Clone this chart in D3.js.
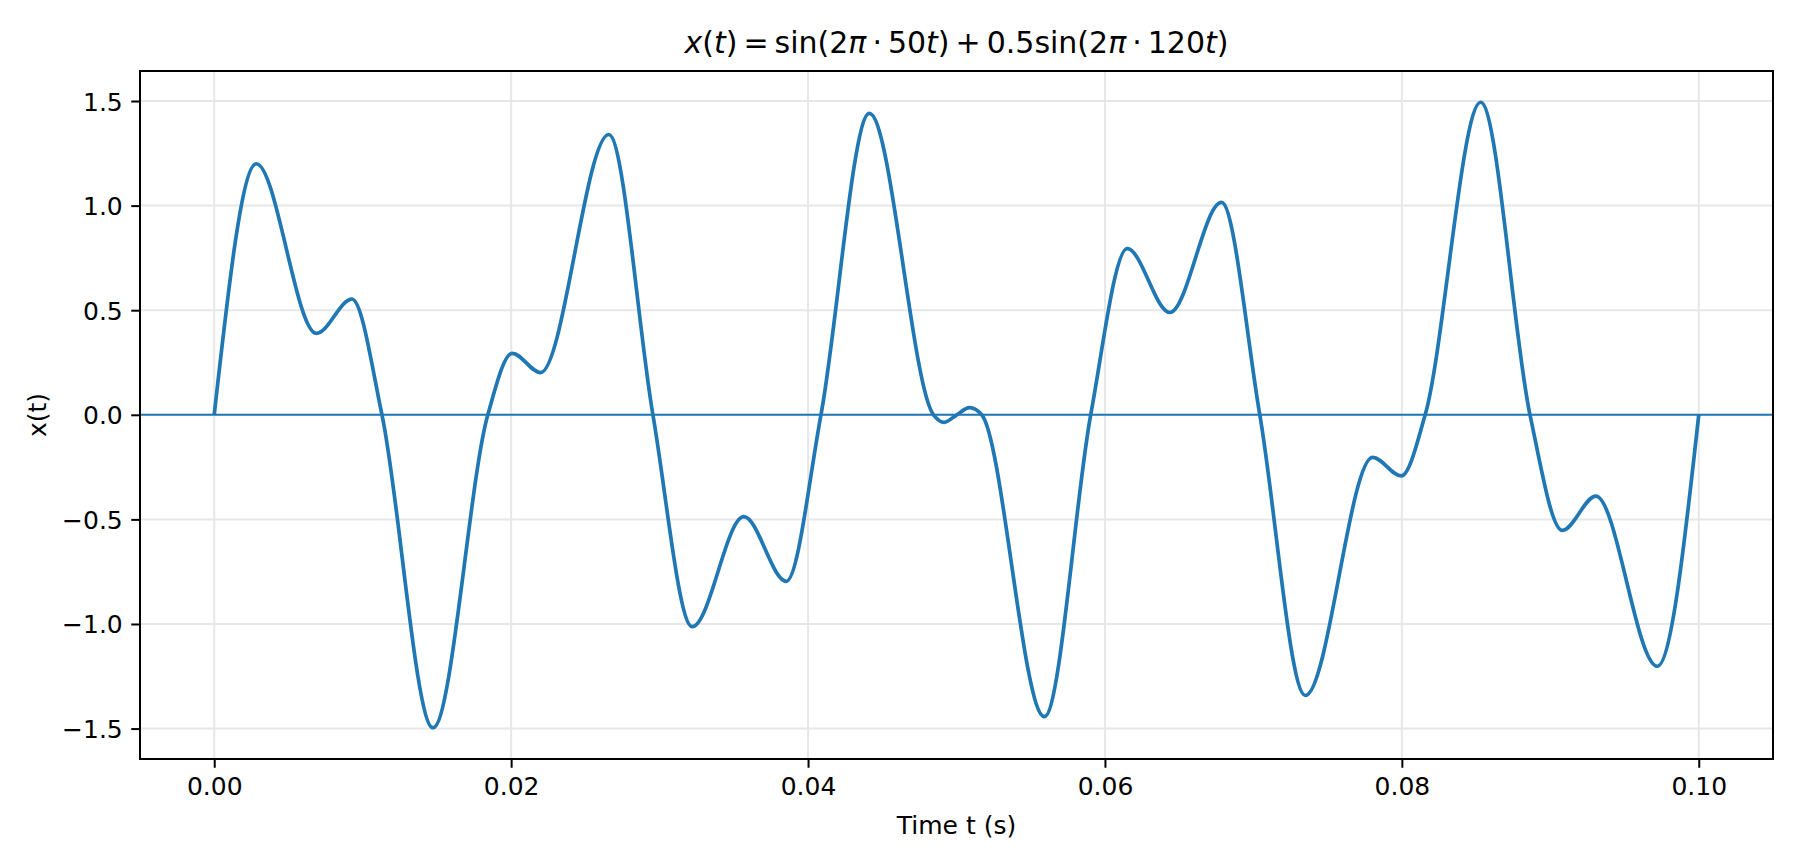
<!DOCTYPE html>
<html>
<head>
<meta charset="utf-8">
<script src="https://cdn.jsdelivr.net/npm/d3@7"></script>
<style>
  body { margin: 0; background: #fff; }
  svg { display: block; font-family: "DejaVu Sans", sans-serif; }
</style>
</head>
<body>
<svg id="chart" width="1800" height="864"></svg>
<script>
// points: local extrema and zero crossings
let timePoints = [
  0, 0.00283, 0.00688, 0.00928, 0.0113, 0.01474, 0.01843, 0.02007, 0.02198, 0.02658,
  0.02955, 0.0322, 0.03567, 0.03854, 0.04087, 0.04413, 0.04845, 0.04917, 0.05002, 0.05087,
  0.0517, 0.05592, 0.05904, 0.0615, 0.06437, 0.06785, 0.07043, 0.0735, 0.07803, 0.07996,
  0.08157, 0.08531, 0.08863, 0.09081, 0.09307, 0.0972, 0.1
];
let signalValues = [
  0, 1.20, 0.389, 0.553, 0, -1.496, 0, 0.294, 0.202, 1.340,
  0, -1.013, -0.487, -0.796, 0, 1.441, 0, -0.036, 0, 0.034,
  0, -1.443, 0, 0.794, 0.489, 1.015, 0, -1.342, -0.204, -0.292,
  0, 1.494, 0, -0.553, -0.389, -1.202, 0
];
let xTicks = [0, 0.02, 0.04, 0.06, 0.08, 0.10];
let yTicks = [-1.5, -1.0, -0.5, 0.0, 0.5, 1.0, 1.5];

let margin = {top: 71, right: 27, bottom: 105, left: 140};
let width = 1800, height = 864;
let plot_w = width - margin.left - margin.right;
let plot_h = height - margin.top - margin.bottom;
let blue = "#1f77b4";

let data = timePoints.map((t, i) => ({t: t, v: signalValues[i]}));

let svg = d3.select("#chart");
let graph = svg.append("g").attr("transform", `translate(${margin.left}, ${margin.top})`);

// matplotlib style 5% margins
let tExt = d3.extent(data, d => d.t);
let vExt = d3.extent(data, d => d.v);
let tPad = (tExt[1] - tExt[0]) * 0.05;
let vPad = (vExt[1] - vExt[0]) * 0.05;

let x = d3.scaleLinear()
    .domain([tExt[0] - tPad, tExt[1] + tPad])
    .range([0, plot_w]);
let y = d3.scaleLinear()
    .domain([vExt[0] - vPad, vExt[1] + vPad])
    .range([plot_h, 0]);

// grid
graph.append("g")
    .selectAll("line.gx")
    .data(xTicks)
    .enter().append("line")
    .attr("x1", d => x(d)).attr("x2", d => x(d))
    .attr("y1", 0).attr("y2", plot_h)
    .attr("stroke", "#e7e7e7").attr("stroke-width", 2);
graph.append("g")
    .selectAll("line.gy")
    .data(yTicks)
    .enter().append("line")
    .attr("x1", 0).attr("x2", plot_w)
    .attr("y1", d => y(d)).attr("y2", d => y(d))
    .attr("stroke", "#e7e7e7").attr("stroke-width", 2);

let line = d3.line()
    .x(d => x(d.t))
    .y(d => y(d.v))
    .curve(d3.curveMonotoneX);

graph.append("path")
    .datum(data)
    .attr("d", line)
    .attr("fill", "none")
    .attr("stroke", blue)
    .attr("stroke-width", 3.7)
    .attr("stroke-linejoin", "round");

// horizontal line at zero across the axes
graph.append("line")
    .attr("x1", 0).attr("x2", plot_w)
    .attr("y1", y(0)).attr("y2", y(0))
    .attr("stroke", blue).attr("stroke-width", 2);

// axes
let minus = s => s.replace("-", "\u2212");
let xAxis = graph.append("g")
    .attr("transform", `translate(0, ${plot_h})`)
    .call(d3.axisBottom(x).tickValues(xTicks).tickFormat(d3.format(".2f"))
        .tickSize(8.75).tickPadding(8.5).tickSizeOuter(0));
let yAxis = graph.append("g")
    .call(d3.axisLeft(y).tickValues(yTicks).tickFormat(d => minus(d3.format(".1f")(d)))
        .tickSize(8.75).tickPadding(8.5).tickSizeOuter(0));

[xAxis, yAxis].forEach(a => {
    a.select(".domain").remove();
    a.selectAll(".tick line").attr("stroke", "#000").attr("stroke-width", 2);
    a.selectAll(".tick text")
        .attr("fill", "#000")
        .style("font-size", "25px")
        .style("font-family", "DejaVu Sans");
});
yAxis.selectAll(".tick text").attr("dy", "0.36em");
xAxis.selectAll(".tick text").attr("dy", "0.76em");

// frame
graph.append("rect")
    .attr("x", 0).attr("y", 0)
    .attr("width", plot_w).attr("height", plot_h)
    .attr("fill", "none")
    .attr("stroke", "#000")
    .attr("stroke-width", 2);

// labels
svg.append("text")
    .attr("x", margin.left + plot_w / 2)
    .attr("y", 834)
    .attr("text-anchor", "middle")
    .style("font-size", "25px")
    .text("Time t (s)");

svg.append("text")
    .attr("transform", `translate(46, ${margin.top + plot_h / 2}) rotate(-90)`)
    .attr("text-anchor", "middle")
    .style("font-size", "25px")
    .text("x(t)");

// title with math italics, tight mathtext-like spacing
let title = svg.append("text")
    .attr("x", margin.left + plot_w / 2)
    .attr("y", 53)
    .attr("text-anchor", "middle")
    .style("font-size", "30px");
let parts = [
    ["x", true], ["(", false], ["t", true], [")\u2009=\u2009sin(2", false], ["\u03c0", true],
    ["\u2009\u00b7\u200950", false], ["t", true], [")\u2009+\u20090.5sin(2", false], ["\u03c0", true],
    ["\u2009\u00b7\u2009120", false], ["t", true], [")", false]
];
parts.forEach(p => {
    title.append("tspan")
        .style("font-style", p[1] ? "italic" : "normal")
        .text(p[0]);
});
</script>
</body>
</html>
